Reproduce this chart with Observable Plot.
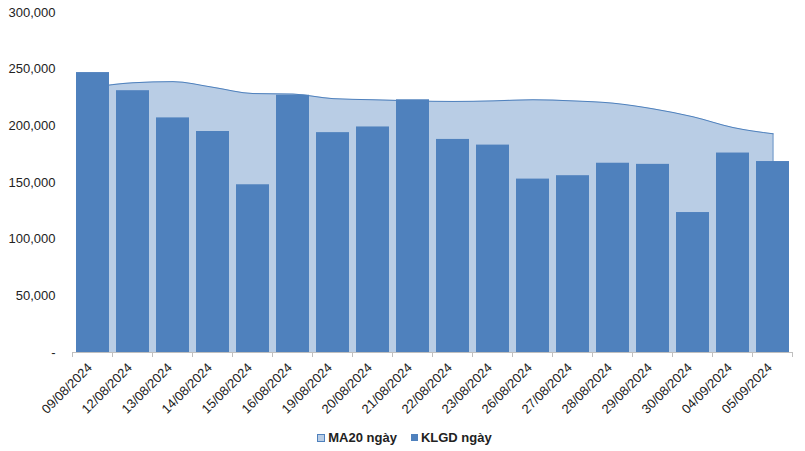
<!DOCTYPE html>
<html>
<head>
<meta charset="utf-8">
<script src="https://cdn.jsdelivr.net/npm/d3@7"></script>
<script src="https://cdn.jsdelivr.net/npm/@observablehq/plot@0.6"></script>
<style>
  body { margin: 0; background: #fff; font-family: "Liberation Sans", Arial, sans-serif; }
  #legend { display: flex; justify-content: center; gap: 14px; font-family: "Liberation Sans", Arial, sans-serif; font-weight: bold; font-size: 13px; color: #222; margin-top: 10px; padding-left: 4px; }
  .item { display: flex; align-items: center; gap: 3px; }
  .sw { width: 6px; height: 6px; display: inline-block; }
</style>
</head>
<body>
<div id="chart"></div>
<div id="legend">
  <span class="item"><span class="sw" style="background:#B9CDE5;border:1px solid #4F81BD"></span>MA20 ngày</span>
  <span class="item"><span class="sw" style="background:#4F81BD;width:7px;height:7px"></span>KLGD ngày</span>
</div>
<script>
const dates = ["09/08/2024","12/08/2024","13/08/2024","14/08/2024","15/08/2024","16/08/2024","19/08/2024","20/08/2024","21/08/2024","22/08/2024","23/08/2024","26/08/2024","27/08/2024","28/08/2024","29/08/2024","30/08/2024","04/09/2024","05/09/2024"];
const klgd = [247000,231000,207000,195000,148000,227000,194000,199000,223000,188000,183000,153000,156000,167000,166000,123500,176000,168500];
const ma20 = [234000,238000,239000,234000,228500,228000,224000,223000,222000,221500,222000,223000,222000,220000,215000,208000,198500,193000];
const yTicks = [0,50000,100000,150000,200000,250000,300000];

const data = dates.map((d, i) => ({date: d, klgd: klgd[i], ma: ma20[i]}));
const fmt = d3.format(",");

const plot = Plot.plot({
  width: 805,
  height: 420,
  marginTop: 12,
  marginBottom: 68,
  marginLeft: 72,
  marginRight: 13,
  style: {fontFamily: "Liberation Sans, Arial, sans-serif", fontSize: "13px", color: "#222"},
  x: {domain: dates, paddingInner: 0.175, paddingOuter: 0.0875, label: null},
  y: {domain: [0, 300000], label: null},
  marks: [
    Plot.areaY(data, {x: "date", y: "ma", fill: "#B9CDE5", curve: "monotone-x"}),
    Plot.lineY(data, {x: "date", y: "ma", stroke: "#4F81BD", strokeWidth: 1, curve: "monotone-x"}),
    Plot.ruleX(data.slice(-1), {x: "date", y1: 0, y2: "ma", stroke: "#4F81BD", strokeWidth: 1}),
    Plot.barY(data, {x: "date", y: "klgd", fill: "#4F81BD"}),
    Plot.axisY({ticks: yTicks, tickSize: 0, tickPadding: 17, tickFormat: d => d === 0 ? "-" : fmt(d), fontSize: 13}),
    Plot.axisX({tickSize: 0, tickRotate: -45, tickPadding: 13, dx: -3, fontSize: 13}),
    Plot.ruleY([0], {stroke: "#BFBFBF"})
  ]
});
document.getElementById("chart").appendChild(plot);

// band boundary tick marks from the x scale
const xs = plot.scale("x");
const svg = d3.select(plot);
const y0 = plot.scale("y").apply(0);
const step = xs.step;
const bounds = dates.map(d => xs.apply(d) - (step - xs.bandwidth) / 2);
bounds.push(bounds[bounds.length - 1] + step);
svg.append("g").selectAll("line").data(bounds).join("line")
  .attr("x1", d => d).attr("x2", d => d)
  .attr("y1", y0).attr("y2", y0 + 5)
  .attr("stroke", "#BFBFBF");
</script>
</body>
</html>
